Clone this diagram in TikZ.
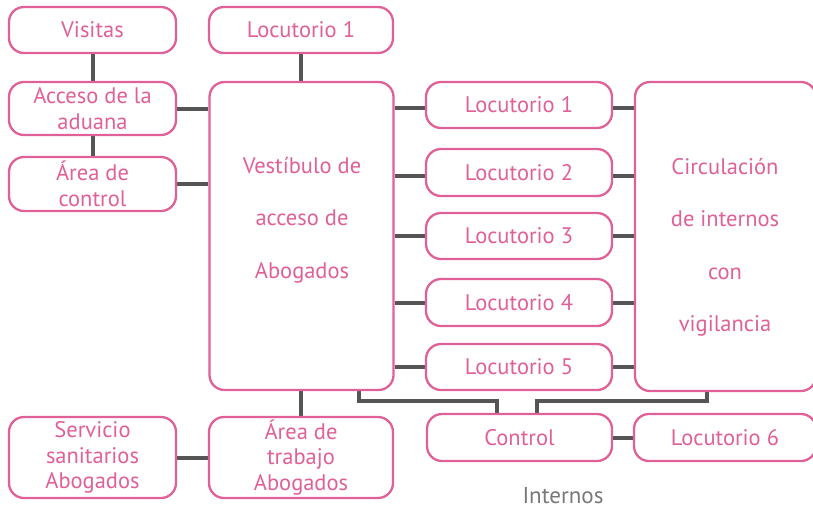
\documentclass[tikz,border=0pt]{standalone}
\usepackage{fontspec}
\setmainfont{PT Sans}
\usetikzlibrary{backgrounds}
\definecolor{rosa}{RGB}{224,96,152}
\definecolor{conn}{RGB}{85,85,85}
\definecolor{gristxt}{RGB}{120,120,120}
\begin{document}
\begin{tikzpicture}[x=1pt,y=-1pt,
  box/.style={draw=rosa,line width=2.3pt,rounded corners=15pt,fill=white,
    text=rosa,align=center,inner sep=0pt,
    font=\fontsize{22.5}{25.5}\selectfont},
  bigtext/.style={text=rosa,align=center,inner sep=0pt,
    font=\fontsize{22.5}{52.5}\selectfont},
  wire/.style={draw=conn,line width=4pt}]
\useasboundingbox (0,0) rectangle (813,509);
% nodes
\node[box,minimum width=167pt,minimum height=46pt] (visitas) at (92.5,30) {Visitas};
\node[box,minimum width=184pt,minimum height=46pt] (loctop) at (301,30) {Locutorio 1};
\node[box,minimum width=167pt,minimum height=53pt] (acceso) at (92.5,108.5) {Acceso de la\\aduana};
\node[box,minimum width=167pt,minimum height=54pt] (areactl) at (92.5,184) {Área de\\control};
\node[box,minimum width=184pt,minimum height=308pt] (vest) at (301.5,236) {};
\node[bigtext] (vesttxt) at (302,220) {Vestíbulo de\\acceso de\\Abogados};
\node[box,minimum width=186pt,minimum height=46pt] (l1) at (519,105) {Locutorio 1};
\node[box,minimum width=186pt,minimum height=47pt] (l2) at (519,172.5) {Locutorio 2};
\node[box,minimum width=186pt,minimum height=46pt] (l3) at (519,236) {Locutorio 3};
\node[box,minimum width=186pt,minimum height=47pt] (l4) at (519,302.5) {Locutorio 4};
\node[box,minimum width=186pt,minimum height=46pt] (l5) at (519,367) {Locutorio 5};
\node[box,minimum width=181pt,minimum height=309pt] (circ) at (725.5,236.5) {};
\node[bigtext] (circtxt) at (725,247.5) {Circulación\\de internos\\con\\vigilancia};
\node[box,minimum width=185pt,minimum height=47pt] (control) at (519.5,437.5) {Control};
\node[box,minimum width=182pt,minimum height=47pt] (loc6) at (725,437.5) {Locutorio 6};
\node[box,minimum width=167pt,minimum height=81pt] (serv) at (92.5,457.5) {Servicio\\sanitarios\\Abogados};
\node[box,minimum width=184pt,minimum height=81pt] (trab) at (301,457.5) {Área de\\trabajo\\Abogados};
\node[text=gristxt,font=\fontsize{23}{25}\selectfont] (internos) at (563,496) {Internos};
% connectors
\begin{pgfonlayer}{background}
\draw[wire] (visitas) -- (acceso);
\draw[wire] (acceso) -- (areactl);
\draw[wire] (acceso.east) -- (acceso.east -| vest.west);
\draw[wire] (areactl.east) -- (areactl.east -| vest.west);
\draw[wire] (loctop.south) -- (loctop.south |- vest.north);
\draw[wire] (trab.north |- vest.south) -- (trab.north);
\draw[wire] (serv) -- (trab);
\foreach \n/\dy in {l1/-3,l2/-3.5,l3/0,l4/-0.5,l5/0}{
  \draw[wire] ([yshift=\dy pt]\n.west -| vest.east) -- ([yshift=\dy pt]\n.west);
  \draw[wire] ([yshift=\dy pt]\n.east) -- ([yshift=\dy pt]\n.east -| circ.west);
}
\draw[wire] (control) -- (loc6);
\coordinate (cl) at ([xshift=-22.5pt]control.north);
\coordinate (cr) at ([xshift=17.5pt]control.north);
\draw[wire] ([xshift=57.5pt]vest.south) |- ([yshift=12pt]cl) -- (cl);
\draw[wire] ([xshift=-18.5pt]circ.south) |- ([yshift=12pt]cr) -- (cr);
\end{pgfonlayer}
\end{tikzpicture}
\end{document}
